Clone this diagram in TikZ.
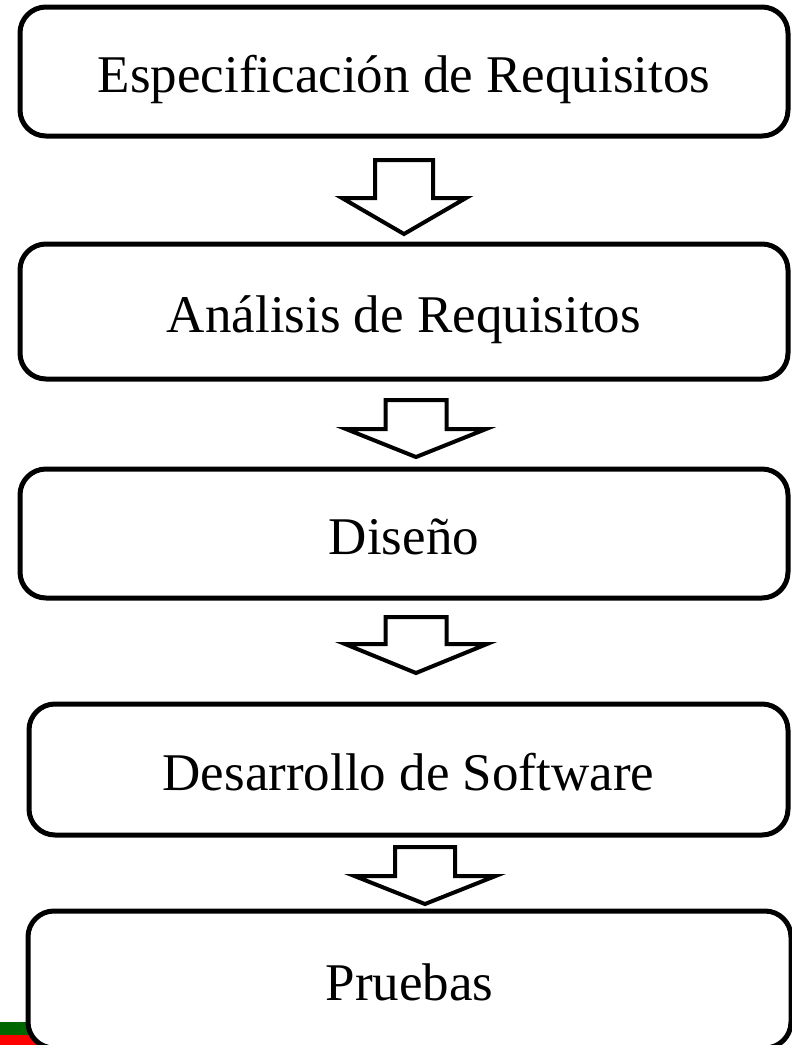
\documentclass[tikz,border=0pt]{standalone}
\usepackage{fontspec}
\setmainfont{Liberation Serif}
\usetikzlibrary{positioning}

\definecolor{stripgreen}{RGB}{0,102,0}
\definecolor{stripred}{RGB}{255,0,0}

\tikzset{
	stage/.style={draw, line width=5pt, rounded corners=26pt, fill=white,
		inner sep=0pt, text height=41pt, text depth=0pt,
		font=\fontsize{53}{60}\selectfont},
	hollow/.style={draw, line width=4pt, fill=white, line join=miter}
}

\begin{document}
\begin{tikzpicture}[x=1pt, y=-1pt]
	\useasboundingbox (0, 0) rectangle (792, 1045);

	% \drawarrow#x#top#shoulder#tip#shaft#head
	\def\drawarrow#1#2#3#4#5#6{
		\draw[hollow] (#1 - #5, #2) -- (#1 + #5, #2) -- (#1 + #5, #3) -- (#1 + #6, #3)
			-- (#1, #4) -- (#1 - #6, #3) -- (#1 - #5, #3) -- cycle;
	}

	% coloured strip under the last box
	\fill[stripgreen] (0, 1022) rectangle (40, 1035);
	\fill[stripred] (0, 1035) rectangle (40, 1045);

	% stages
	\node[stage, minimum width=768pt, minimum height=129pt] (spec) at (404, 71.5) {Especificación de Requisitos};
	\node[stage, minimum width=768pt, minimum height=135pt] (analysis) at (404, 311.5) {Análisis de Requisitos};
	\node[stage, minimum width=768pt, minimum height=129pt] (design) at (404, 533.5) {Diseño};
	\node[stage, minimum width=759pt, minimum height=131pt] (develop) at (408.5, 769.5) {Desarrollo de Software};
	\node[stage, minimum width=763pt, minimum height=137pt] (tests) at (409.5, 979.5) {Pruebas};

	% arrows between stages
	\drawarrow{404}{160}{198}{234}{29}{62}
	\drawarrow{416}{400}{429}{457}{30.5}{70}
	\drawarrow{416}{617}{644}{673}{30.5}{71}
	\drawarrow{425}{847}{876}{904}{30}{70.5}
\end{tikzpicture}
\end{document}
